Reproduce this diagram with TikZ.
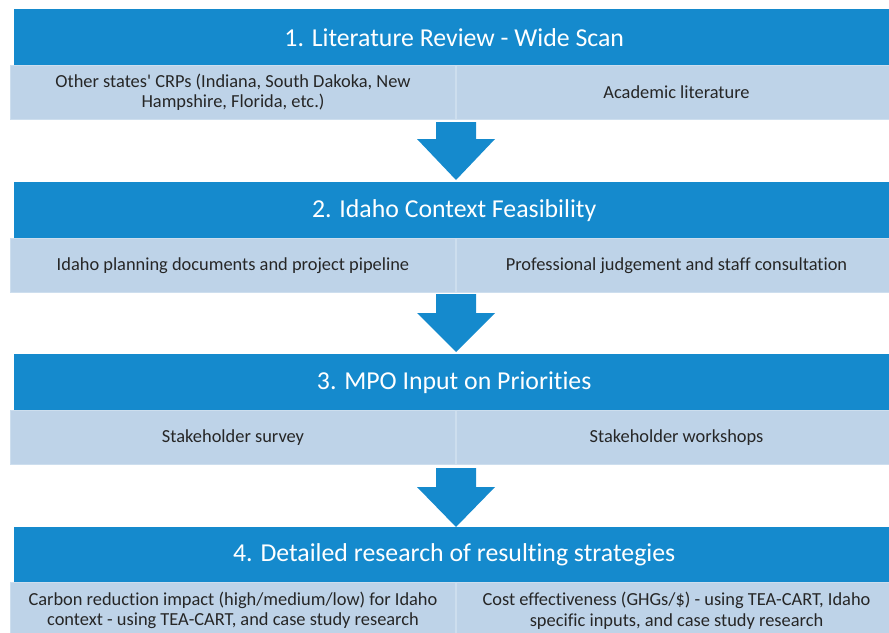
\documentclass[tikz,border=0pt]{standalone}
\usepackage{fontspec}
\setmainfont{Carlito}[Ligatures={NoCommon}]
\definecolor{hdrblue}{RGB}{21,138,205}
\definecolor{sublight}{RGB}{190,211,232}
\definecolor{subedge}{RGB}{205,222,238}
\definecolor{txtgray}{RGB}{38,38,38}
\tikzset{
  hdr/.style={fill=hdrblue, draw=none, anchor=north west, minimum height=56pt, minimum width=880pt, inner sep=0pt, text=white, font=\fontsize{25.8}{30}\selectfont},
  subbox/.style={fill=sublight, draw=subedge, line width=1pt, anchor=north west, minimum height=54pt, inner sep=0pt, text=txtgray, align=center, font=\fontsize{18.4}{20.5}\selectfont},
  bigarrow/.style={fill=hdrblue, draw=none}
}
\begin{document}
\begin{tikzpicture}[x=1pt,y=-1pt]
\useasboundingbox (0,0) rectangle (889,632);
% stage 1
\node[hdr] (h1) at (14,9) {1. Literature Review - Wide Scan};
\node[subbox, minimum width=445pt] (s1a) at (10,65) {Other states\textquotesingle{} CRPs (Indiana, South Dakoka, New\\Hampshire, Florida, etc.)};
\node[subbox, minimum width=440pt] (s1b) at (456,65) {Academic literature};
% stage 2
\node[hdr] (h2) at (14,182) {2. Idaho Context Feasibility};
\node[subbox, minimum width=445pt] (s2a) at (10,238) {Idaho planning documents and project pipeline};
\node[subbox, minimum width=440pt] (s2b) at (456,238) {Professional judgement and staff consultation};
% stage 3
\node[hdr] (h3) at (14,354) {3. MPO Input on Priorities};
\node[subbox, minimum width=445pt] (s3a) at (10,410) {Stakeholder survey};
\node[subbox, minimum width=440pt] (s3b) at (456,410) {Stakeholder workshops};
% stage 4
\node[hdr] (h4) at (14,527) {4. Detailed research of resulting strategies};
\node[subbox, minimum width=445pt, minimum height=56pt] (s4a) at (10,582) {Carbon reduction impact (high/medium/low) for Idaho\\context - using TEA-CART, and case study research};
\node[subbox, minimum width=440pt, minimum height=56pt] (s4b) at (456,582) {Cost effectiveness (GHGs/\$) - using TEA-CART, Idaho\\specific inputs, and case study research};
% arrows
\coordinate (t1) at (456,180);
\coordinate (t2) at (456,352);
\coordinate (t3) at (456,527);
\fill[bigarrow] (t1) -- ++(-39,-41) -- ++(19,0) -- ++(0,-17) -- ++(40,0) -- ++(0,17) -- ++(19,0) -- cycle;
\fill[bigarrow] (t2) -- ++(-39,-39) -- ++(19,0) -- ++(0,-19) -- ++(40,0) -- ++(0,19) -- ++(19,0) -- cycle;
\fill[bigarrow] (t3) -- ++(-39,-40) -- ++(19,0) -- ++(0,-19) -- ++(40,0) -- ++(0,19) -- ++(19,0) -- cycle;
\end{tikzpicture}
\end{document}
